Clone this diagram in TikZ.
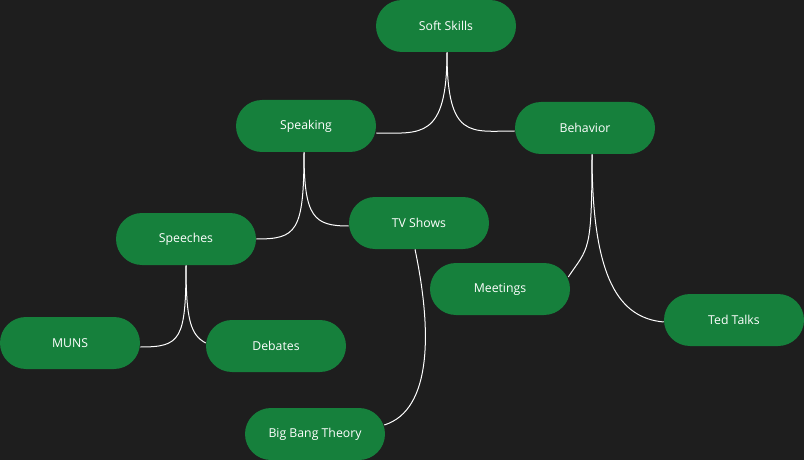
\documentclass[tikz,border=0pt]{standalone}
\usepackage{fontspec}
\setmainfont{Open Sans}
\definecolor{canvas}{HTML}{1E1E1E}
\definecolor{pill}{HTML}{16803C}
\pgfdeclarelayer{bg}
\pgfdeclarelayer{edges}
\pgfsetlayers{bg,edges,main}

\begin{document}
\begin{tikzpicture}[x=0.75pt, y=-0.75pt,
    topic/.style={fill=pill, text=white, rounded corners=19.5pt,
        minimum width=105pt, minimum height=39pt, inner sep=0pt,
        font=\fontsize{9.2}{11}\selectfont},
    link/.style={draw=white, line width=0.75pt}]
    \begin{pgfonlayer}{bg}
        \fill[canvas] (0,0) rectangle (804,460);
    \end{pgfonlayer}

    \node[topic] (soft) at (446,26) {Soft Skills};
    \node[topic] (speak) at (306,126) {Speaking};
    \node[topic] (behav) at (585,128) {Behavior};
    \node[topic] (tv) at (419,223) {TV Shows};
    \node[topic] (speech) at (186,239) {Speeches};
    \node[topic] (meet) at (500,289) {Meetings};
    \node[topic] (ted) at (734,320) {Ted Talks};
    \node[topic] (muns) at (70,343) {MUNS};
    \node[topic] (debate) at (276,346) {Debates};
    \node[topic] (bbt) at (315,434) {Big Bang Theory};

    % connectors sit behind the pills
    \begin{pgfonlayer}{edges}
    \draw[link] ([shift={(1,0)}]soft.south) .. controls +(0,88) and +(44,0) .. ([shift={(0,7)}]speak.east);
    \draw[link] ([shift={(1,0)}]soft.south) .. controls +(0,88) and +(-44,0) .. ([shift={(0,3)}]behav.west);
    \draw[link] ([shift={(-2,0)}]speak.south) .. controls +(0,80) and +(40,0) .. (speech.east);
    \draw[link] ([shift={(-2,0)}]speak.south) .. controls +(0,65) and +(-35,0) .. ([shift={(0,3)}]tv.west);
    \draw[link] (speech.south) .. controls +(0,75) and +(40,0) .. ([shift={(0,4)}]muns.east);
    \draw[link] (speech.south) .. controls +(0,55) and +(-15,-8) .. ([shift={(0,-3)}]debate.west);
    \draw[link] ([shift={(7,0)}]behav.south) .. controls +(0,100) and +(20,-30) .. ([shift={(-2,-12)}]meet.east);
    \draw[link] ([shift={(7,0)}]behav.south) .. controls +(0,126) and +(-44,-4) .. ([shift={(0,2)}]ted.west);
    \draw[link] ([shift={(-4,0)}]tv.south) .. controls +(17,81) and +(48,-15) .. ([shift={(-1,-9)}]bbt.east);
    \end{pgfonlayer}
\end{tikzpicture}
\end{document}
